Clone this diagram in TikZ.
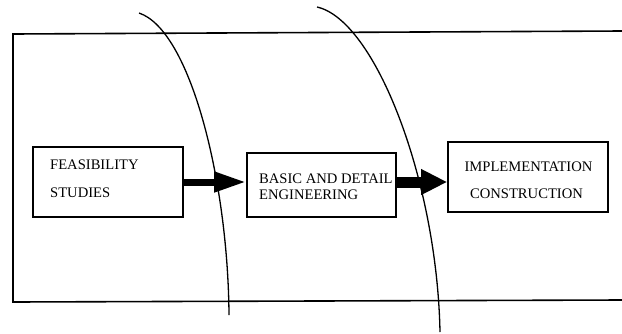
\documentclass[tikz,border=0pt]{standalone}
\usepackage{fontspec}
\setmainfont{Liberation Serif}
\usetikzlibrary{arrows.meta}
\begin{document}
\begin{tikzpicture}[x=1pt,y=-1pt,
  stagebox/.style={draw, line width=1.6pt, rectangle, inner sep=0pt},
  lbl/.style={inner sep=0pt, font=\fontsize{14.6}{16}\selectfont}]
\useasboundingbox (0,0) rectangle (622,333);
% frame (right side cut off)
\draw[line width=1.6pt] (622,31) -- (13,34) -- (13,302) -- (622,300);
% curves
\draw[line width=1.3pt] (139,13) .. controls (190,30) and (228,180) .. (229,315);
\draw[line width=1.3pt] (317,7) .. controls (375,20) and (437,180) .. (440,332);
% boxes
\node[stagebox, minimum width=150pt, minimum height=70pt] (b1) at (108,182) {};
\node[stagebox, minimum width=149pt, minimum height=64pt] (b2) at (321.5,185) {};
\node[stagebox, minimum width=160pt, minimum height=70pt] (b3) at (528,177) {};
% texts
\node[lbl, anchor=base west] (t1a) at (50,169) {FEASIBILITY};
\node[lbl, anchor=base west] (t1b) at (50,197) {STUDIES};
\node[lbl, anchor=base west] (t2a) at (259,183) {BASIC AND DETAIL};
\node[lbl, anchor=base west] (t2b) at (259,199) {ENGINEERING};
\node[lbl, anchor=base] (t3a) at (528.5,171) {IMPLEMENTATION};
\node[lbl, anchor=base] (t3b) at (526.5,198) {CONSTRUCTION};
% arrows
\coordinate (a1) at (b1.east |- 0,182);
\coordinate (a2) at (b2.east |- 0,182);
\draw[line width=7pt, -{Triangle[length=32pt,width=19pt]}] (a1) -- (a1 -| b2.west);
\draw[line width=11pt, -{Triangle[length=26pt,width=24pt]}] (a2) -- (a2 -| b3.west);
\end{tikzpicture}
\end{document}
